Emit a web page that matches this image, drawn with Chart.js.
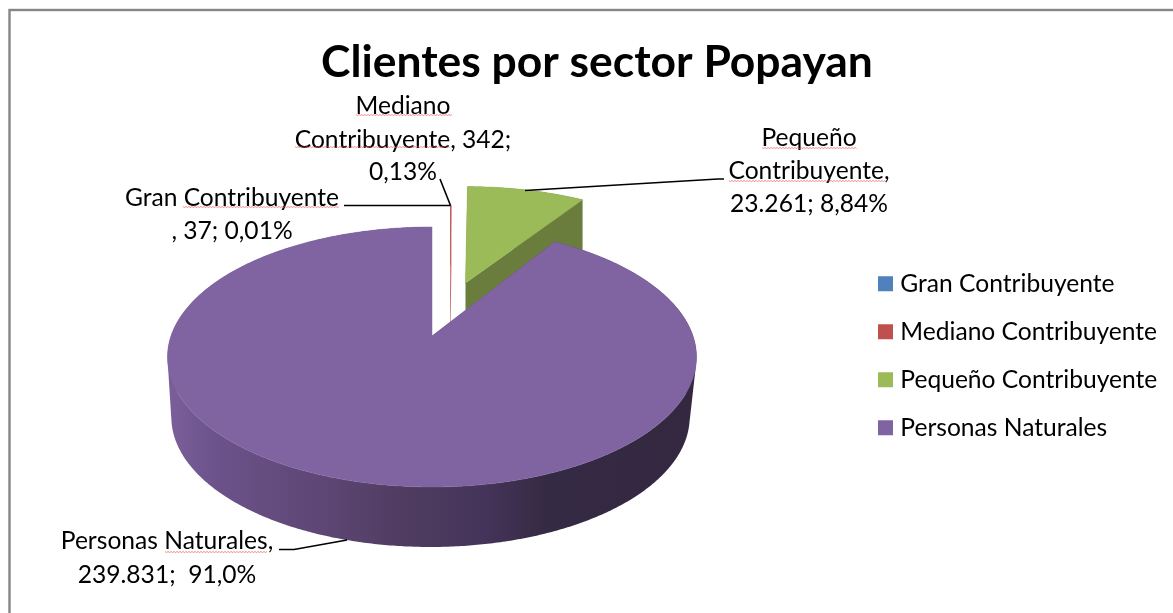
<!DOCTYPE html>
<html><head><meta charset="utf-8">
<style>html,body{margin:0;padding:0;background:#fff}#w{width:1173px;height:613px;position:relative;overflow:hidden}</style>
<script src="https://cdn.jsdelivr.net/npm/chart.js@4/dist/chart.umd.min.js"></script>
</head><body><div id="w"><canvas id="c" width="1173" height="613"></canvas></div>
<script>
const categories = ['Gran Contribuyente','Mediano Contribuyente','Pequeño Contribuyente','Personas Naturales'];
const values = [37,342,23261,239831];
const colors = ['#4F81BD','#C0504D','#9BBB59','#8064A2'];
const wallColors = ['#4F81BD','#C0504D','#6A7D3C',null];
const titleText = 'Clientes por sector Popayan';
const FONT = 'Lato, Carlito, sans-serif';
const LABEL_PX = 24.6;

// perspective placement of each exploded slice
const K = 0.1615;
const placement = [
  {x0:450.2,y0:300,A:150,a:110,lowX:1,lowShift:0,edge:0},
  {x0:450.2,y0:300,A:150,a:110,lowX:1,lowShift:0,edge:0},
  {x0:465.5,y0:283,A:249,a:112,lowX:1,lowShift:0,edge:0.5},
  {x0:432,y0:336,A:261,a:126.6,lowX:0.98,lowShift:-1.5,edge:0.5}
];
const DEPTH = 60;

function proj(p,th,r,low){
  const u=Math.sin(th)*r, v=Math.cos(th)*r, d=1+K*v;
  const A=low?p.A*p.lowX:p.A;
  return [p.x0+(low?p.lowShift:0)+A*u/d, p.y0-p.a*v/d+(low?DEPTH:0)];
}
function arcPts(p,s,e,low){
  const n=Math.max(2,Math.ceil((e-s)/(Math.PI/360))), out=[];
  for(let i=0;i<=n;i++) out.push(proj(p,s+(e-s)*i/n,1,low));
  return out;
}
function addSub(ctx,pts){
  let area=0;
  pts.forEach((q,i)=>{const n=pts[(i+1)%pts.length];area+=q[0]*n[1]-n[0]*q[1];});
  const list=area<0?pts.slice().reverse():pts;
  list.forEach((q,i)=>i?ctx.lineTo(q[0],q[1]):ctx.moveTo(q[0],q[1]));
  ctx.closePath();
}
const pie3d = {
  id:'pie3d',
  beforeDraw(chart){
    const ctx=chart.ctx;
    ctx.save();
    ctx.fillStyle='#fff';ctx.fillRect(0,0,chart.width,chart.height);
    ctx.strokeStyle='#868686';ctx.lineWidth=2.4;
    ctx.strokeRect(9.5,10,2000,2000);
    ctx.restore();
  },
  beforeDatasetsDraw(chart){
    const ctx=chart.ctx, meta=chart.getDatasetMeta(0);
    ctx.save();
    const wall=ctx.createLinearGradient(166,0,696,0);
    [[0,'#7b5f9b'],[0.1,'#6b5289'],[0.3,'#5d4674'],[0.45,'#4f3c60'],[0.6,'#45345a'],[0.72,'#352a43'],[1,'#332840']]
      .forEach(s=>wall.addColorStop(s[0],s[1]));
    meta.data.forEach((arc,i)=>{
      const {startAngle,endAngle}=arc.getProps(['startAngle','endAngle'],true);
      const s=startAngle+Math.PI/2, e=endAngle+Math.PI/2, p=placement[i];
      const topArc=arcPts(p,s,e,false), lowArc=arcPts(p,s,e,true);
      const apex=proj(p,0,0,false), apexLow=proj(p,0,0,true);
      ctx.beginPath();
      addSub(ctx,[apex,topArc[0],lowArc[0],apexLow]);
      addSub(ctx,[apex,topArc[topArc.length-1],lowArc[lowArc.length-1],apexLow]);
      for(let j=0;j<topArc.length-1;j++) addSub(ctx,[topArc[j],topArc[j+1],lowArc[j+1],lowArc[j]]);
      ctx.fillStyle=wallColors[i]||wall; ctx.fill('nonzero');
      ctx.beginPath();
      addSub(ctx,[apex,...topArc]);
      ctx.fillStyle=colors[i]; ctx.fill();
      if(p.edge){ctx.strokeStyle=colors[i];ctx.lineWidth=p.edge;ctx.stroke();}
    });
    ctx.restore();
    return false;
  },
  afterDraw(chart){
    const ctx=chart.ctx;
    ctx.save();
    // leader lines
    ctx.strokeStyle='#000';ctx.lineWidth=1.6;
    [[[440,179],[450.5,205.5]],[[344,205.5],[450.5,205.5]],
     [[525,190.5],[718,179],[724,179]],[[347,540],[294,549.5],[279,549.5]]].forEach(l=>{
      ctx.beginPath();l.forEach((q,i)=>i?ctx.lineTo(q[0],q[1]):ctx.moveTo(q[0],q[1]));ctx.stroke();
    });
    // data labels
    ctx.fillStyle='#000';ctx.textAlign='center';ctx.textBaseline='middle';
    ctx.font=LABEL_PX+'px '+FONT;
    [['Mediano',403,106],['Contribuyente, '+'342;',403,140],['0,13%',403,172],
     ['Gran Contribuyente',232,198],[', 37; 0,01%',232,231],
     ['Pequeño',809,138],['Contribuyente,',809,171],['23.261; 8,84%',809,204],
     ['Personas Naturales,',167,541],['239.831;  91,0%',167,575]]
     .forEach(t=>ctx.fillText(t[0],t[1],t[2]));
    // spell-check underlines
    ctx.strokeStyle='rgba(235,80,80,.65)';ctx.lineWidth=1;
    [[356,452,115],[295,450,147],[183,339,207],[762,857,148],[729,885,181],[165,268,552]].forEach(w=>{
      ctx.beginPath();
      for(let x=w[0],i=0;x<=w[1];x+=1.5,i++){const y=w[2]+(i%2?0.5:-0.5); i?ctx.lineTo(x,y):ctx.moveTo(x,y);}
      ctx.stroke();
    });
    ctx.restore();
  },
  afterLayout(chart){
    const l=chart.legend;
    l.left=859.6;l.top=248;l.right=1173;l.bottom=600;l.width=313;l.height=352;
    l.adjustHitBoxes();
  }
};
new Chart(document.getElementById('c'),{
  type:'pie',
  data:{labels:categories,datasets:[{data:values,backgroundColor:colors,borderWidth:0}]},
  plugins:[pie3d],
  options:{
    responsive:false,animation:false,
    layout:{padding:{left:21,top:36}},
    events:[],
    plugins:{
      tooltip:{enabled:false},
      title:{display:true,text:titleText,color:'#000',align:'center',font:{family:FONT,size:44.4,weight:'bold'},padding:{top:0,bottom:6}},
      legend:{display:true,position:'right',align:'start',
        labels:{color:'#000',font:{family:FONT,size:LABEL_PX},boxWidth:5,boxHeight:5,padding:23.4,
          generateLabels(chart){
            return categories.map((t,i)=>({text:t,fillStyle:colors[i],strokeStyle:colors[i],lineWidth:10,index:i,hidden:false}));
          }}}
    }
  }
});
</script></body></html>
